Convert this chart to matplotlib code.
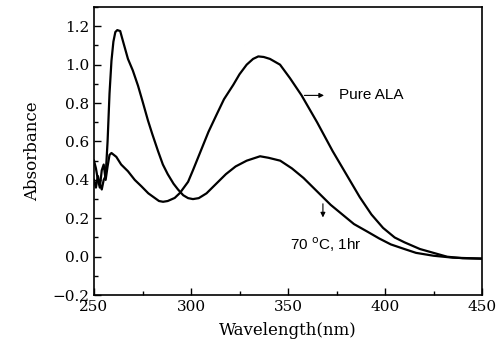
import numpy as np
from matplotlib import pyplot as plt
from matplotlib.ticker import MultipleLocator

# Pure ALA spectrum
wl_pure = [250, 251, 252, 253, 254, 255, 256, 257, 258, 259, 261.5, 264, 267.5, 271,
           274.4, 278, 281.3, 283.5, 285.6, 288, 291.6, 294.3, 298.5, 301, 304.6, 309,
           313.2, 317, 321.8, 325, 328.7, 332, 334.7, 337.5, 340.7, 345.9, 351, 357,
           365, 373, 380, 387, 393, 399, 405, 410, 418, 425, 432, 440, 450]
abs_pure = [0.50, 0.46, 0.40, 0.36, 0.45, 0.48, 0.40, 0.47, 0.53, 0.54, 0.52, 0.48, 0.445, 0.40,
            0.367, 0.33, 0.306, 0.29, 0.286, 0.29, 0.306, 0.332, 0.39, 0.45, 0.54, 0.65,
            0.74, 0.82, 0.895, 0.95, 1.0, 1.03, 1.043, 1.04, 1.03, 1.0, 0.93, 0.84,
            0.70, 0.55, 0.43, 0.31, 0.22, 0.15, 0.10, 0.075, 0.04, 0.02, 0.0, -0.008, -0.01]

# after heating at 70 C for 1 hr
wl_heat = [250, 251, 252, 253, 254, 255, 256, 257, 258, 259, 260, 261, 262, 263.5, 265,
           267.5, 270, 272.7, 275, 277.8, 280, 283, 285.5, 288, 291, 293.3, 296, 298.5,
           301, 304, 308, 313, 318, 323, 328.7, 335.6, 340, 346, 352, 358, 366, 372,
           378, 384, 391, 397, 403, 410, 416, 425, 435, 450]
abs_heat = [0.40, 0.36, 0.42, 0.38, 0.35, 0.40, 0.42, 0.60, 0.85, 1.02, 1.12, 1.17, 1.18, 1.175, 1.12,
            1.03, 0.97, 0.89, 0.81, 0.71, 0.64, 0.55, 0.48, 0.43, 0.38, 0.35, 0.32, 0.305,
            0.30, 0.305, 0.33, 0.38, 0.43, 0.47, 0.50, 0.523, 0.515, 0.50, 0.46, 0.41, 0.33, 0.27,
            0.22, 0.17, 0.13, 0.095, 0.064, 0.04, 0.02, 0.005, -0.005, -0.01]

yticks = [-0.2, 0.0, 0.2, 0.4, 0.6, 0.8, 1.0, 1.2]

fig = plt.figure(figsize=(5, 3.53), dpi=100)
ax = fig.add_axes([0.188, 0.164, 0.776, 0.816])

ax.plot(wl_pure, abs_pure, color='k', lw=1.6)
ax.plot(wl_heat, abs_heat, color='k', lw=1.6)

ax.set_xlim(250, 450)
ax.set_ylim(-0.2, 1.3)
ax.xaxis.set_major_locator(MultipleLocator(50))
ax.xaxis.set_minor_locator(MultipleLocator(25))
ax.yaxis.set_minor_locator(MultipleLocator(0.1))
ax.set_yticks(yticks)
ax.set_yticklabels([('%.1f' % v).replace('-', '\u2212') for v in yticks])
ax.tick_params(which='both', direction='in', top=False, right=False, labelsize=11)
ax.tick_params(which='major', length=5, width=1)
ax.tick_params(which='minor', length=3, width=1)
for lab in ax.get_xticklabels() + ax.get_yticklabels():
    lab.set_family('DejaVu Serif')
for s in ax.spines.values():
    s.set_linewidth(1.2)

ax.set_xlabel('Wavelength(nm)', family='DejaVu Serif', fontsize=12, labelpad=6)
ax.set_ylabel('Absorbance', family='DejaVu Serif', fontsize=12, labelpad=8)

ax.annotate('', xy=(370, 0.84), xytext=(357, 0.84),
            arrowprops=dict(arrowstyle='-|>', lw=0.8, color='k', mutation_scale=7))
ax.text(376.5, 0.84, 'Pure ALA', family='Liberation Sans', fontsize=11, va='center')

ax.annotate('', xy=(368, 0.19), xytext=(368, 0.29),
            arrowprops=dict(arrowstyle='-|>', lw=0.8, color='k', mutation_scale=7))
ax.text(351, 0.065, '70 $^{\\mathrm{o}}$C, 1hr', family='Liberation Sans', fontsize=11, va='center')

plt.savefig('out.png', dpi=100)
plt.close()
